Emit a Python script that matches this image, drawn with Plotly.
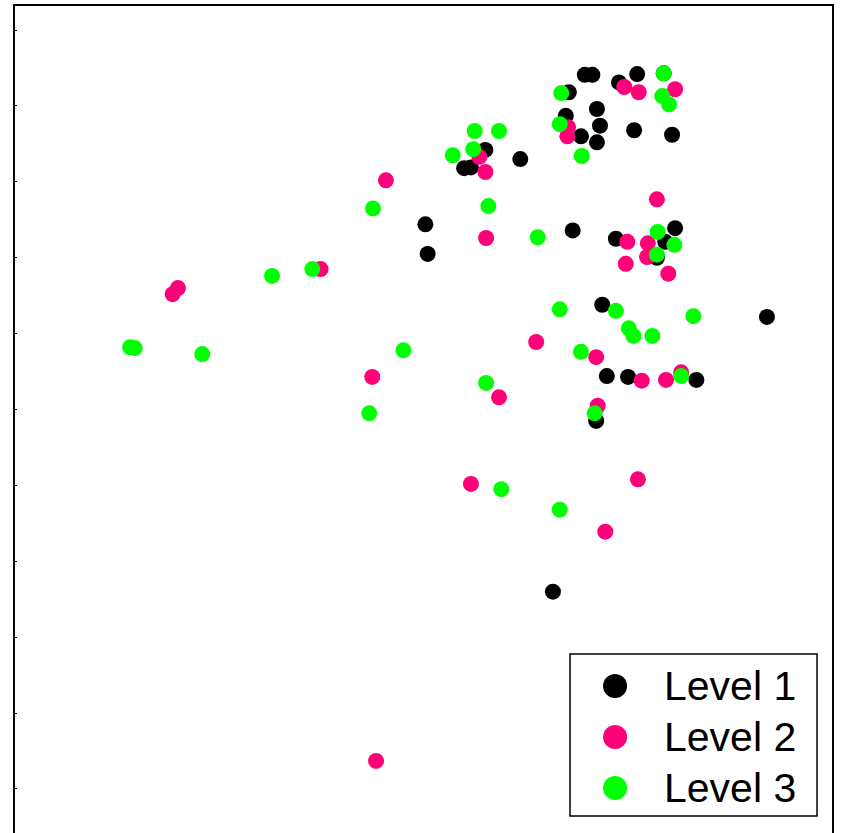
import plotly.graph_objects as go

# Level 1 observations
x_level1 = [7.52, 7.62, 7.97, 8.21, 8.56, 7.31, 7.68, 7.27, 7.47, 7.72, 7.68, 8.17, 8.67,
            6.21, 5.93, 6.02, 6.67, 7.36, 7.93, 8.71, 8.58, 8.47, 5.42, 5.45, 7.75, 9.92,
            7.81, 8.09, 8.99, 7.67, 7.10]
y_level1 = [9.41, 9.41, 9.31, 9.42, 9.43, 9.18, 8.96, 8.87, 8.60, 8.74, 8.52, 8.68, 8.62,
            8.42, 8.18, 8.19, 8.30, 7.36, 7.25, 7.39, 7.21, 7.00, 7.44, 7.05, 6.38, 6.22,
            5.44, 5.43, 5.39, 4.85, 2.60]

# Level 2 observations
x_level2 = [8.04, 8.23, 8.71, 7.30, 7.29, 6.13, 6.21, 4.90, 6.22, 8.47, 8.08, 8.35, 8.34,
            8.06, 8.62, 4.04, 2.16, 2.09, 6.88, 7.67, 4.72, 8.27, 8.59, 8.79, 6.39, 7.69,
            6.02, 8.22, 7.79, 4.77]
y_level2 = [9.25, 9.18, 9.22, 8.72, 8.60, 8.33, 8.13, 8.02, 7.26, 7.77, 7.21, 7.19, 7.01,
            6.92, 6.79, 6.85, 6.60, 6.52, 5.89, 5.69, 5.43, 5.38, 5.39, 5.49, 5.16, 5.05,
            4.02, 4.08, 3.39, 0.37]

# Level 3 observations
x_level3 = [8.56, 8.54, 8.63, 7.21, 7.19, 7.48, 6.07, 6.39, 6.05, 5.78, 6.25, 6.90, 4.73,
            8.48, 8.70, 8.47, 3.40, 3.93, 1.53, 1.59, 2.48, 5.13, 4.68, 7.19, 7.93, 8.10,
            8.16, 8.41, 8.95, 7.47, 8.79, 6.22, 7.65, 6.42, 7.19]
y_level3 = [9.43, 9.13, 9.02, 9.17, 8.76, 8.34, 8.67, 8.67, 8.43, 8.35, 7.68, 7.27, 7.65,
            7.34, 7.17, 7.04, 6.76, 6.85, 5.82, 5.81, 5.73, 5.78, 4.95, 6.32, 6.30, 6.07,
            5.97, 5.97, 6.23, 5.76, 5.44, 5.35, 4.95, 3.95, 3.68]

level_names = ["Level 1", "Level 2", "Level 3"]
level_colors = ["#000000", "#FF0078", "#00FF00"]
y_ticks = list(range(0, 11))

series = [(x_level1, y_level1), (x_level2, y_level2), (x_level3, y_level3)]

fig = go.Figure()
for (xs, ys), name, color in zip(series, level_names, level_colors):
    fig.add_trace(go.Scatter(
        x=xs, y=ys, mode="markers", name=name, showlegend=False,
        marker=dict(size=16, color=color, line=dict(width=0)),
        cliponaxis=False,
    ))

# Outer frame (bottom edge runs below the page)
shapes = [dict(type="rect", xref="paper", yref="paper", x0=0, x1=1, y0=-0.1, y1=1,
               line=dict(color="black", width=2), fillcolor="rgba(0,0,0,0)", layer="above")]

# Legend box drawn by hand so its symbols can be large
leg_x0, leg_x1, leg_y0, leg_y1 = 0.6789, 0.9805, 0.0205, 0.2162
shapes.append(dict(type="rect", xref="paper", yref="paper",
                   x0=leg_x0, x1=leg_x1, y0=leg_y0, y1=leg_y1,
                   line=dict(color="black", width=1.5), fillcolor="white", layer="above"))
row_y = [0.1775, 0.1159, 0.0543]
annotations = []
for ry, name, color in zip(row_y, level_names, level_colors):
    shapes.append(dict(type="circle", xref="paper", yref="paper",
                       xsizemode="pixel", ysizemode="pixel",
                       xanchor=0.7339, yanchor=ry, x0=-12, x1=12, y0=-12, y1=12,
                       fillcolor=color, line=dict(width=0), layer="above"))
    annotations.append(dict(xref="paper", yref="paper", x=0.7912, y=ry,
                            xanchor="left", yanchor="middle", text=name, showarrow=False,
                            font=dict(family="Liberation Sans, Arial, sans-serif",
                                      size=41, color="black")))

fig.update_layout(
    width=842, height=833,
    margin=dict(l=14, r=9, t=5, b=0),
    paper_bgcolor="white", plot_bgcolor="white",
    showlegend=False,
    shapes=shapes, annotations=annotations,
    xaxis=dict(range=[0, 10.79], showgrid=False, zeroline=False, showticklabels=False,
               ticks="", showline=False),
    yaxis=dict(range=[-0.58, 10.33], showgrid=False, zeroline=False, showticklabels=False,
               tickmode="array", tickvals=y_ticks, ticks="inside", ticklen=3,
               tickwidth=1, tickcolor="black", showline=False),
)

fig.write_html("out.html")
